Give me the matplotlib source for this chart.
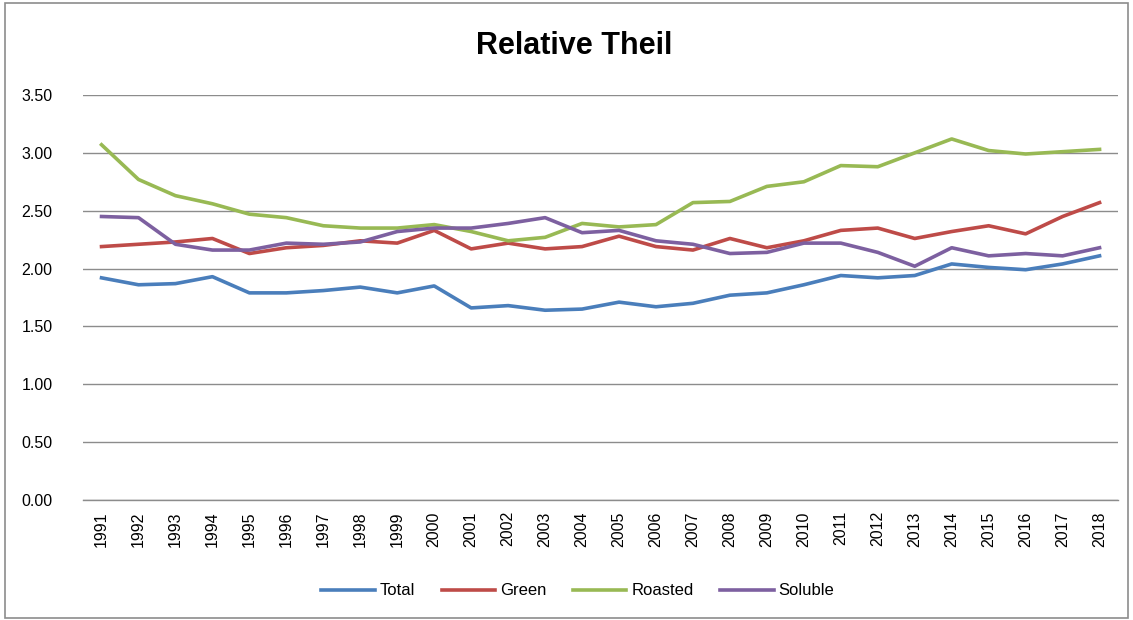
import matplotlib
matplotlib.use('Agg')
import matplotlib.pyplot as plt
from matplotlib.patches import Rectangle

years = [str(y) for y in range(1991, 2019)]

total = [1.92, 1.86, 1.87, 1.93, 1.79, 1.79, 1.81, 1.84, 1.79, 1.85,
         1.66, 1.68, 1.64, 1.65, 1.71, 1.67, 1.70, 1.77, 1.79, 1.86,
         1.94, 1.92, 1.94, 2.04, 2.01, 1.99, 2.04, 2.11]
green = [2.19, 2.21, 2.23, 2.26, 2.13, 2.18, 2.20, 2.24, 2.22, 2.33,
         2.17, 2.22, 2.17, 2.19, 2.28, 2.19, 2.16, 2.26, 2.18, 2.24,
         2.33, 2.35, 2.26, 2.32, 2.37, 2.30, 2.45, 2.57]
roasted = [3.07, 2.77, 2.63, 2.56, 2.47, 2.44, 2.37, 2.35, 2.35, 2.38,
           2.32, 2.24, 2.27, 2.39, 2.36, 2.38, 2.57, 2.58, 2.71, 2.75,
           2.89, 2.88, 3.00, 3.12, 3.02, 2.99, 3.01, 3.03]
soluble = [2.45, 2.44, 2.21, 2.16, 2.16, 2.22, 2.21, 2.23, 2.32, 2.35,
           2.35, 2.39, 2.44, 2.31, 2.33, 2.24, 2.21, 2.13, 2.14, 2.22,
           2.22, 2.14, 2.02, 2.18, 2.11, 2.13, 2.11, 2.18]

series = [('Total', total, '#4a7ebb'),
          ('Green', green, '#be4b48'),
          ('Roasted', roasted, '#98b954'),
          ('Soluble', soluble, '#7d60a0')]

plt.rcParams['font.family'] = ['Liberation Sans', 'DejaVu Sans']

fig = plt.figure(figsize=(11.33, 6.2), dpi=100)
ax = fig.add_axes([0.0733, 0.1935, 0.9135, 0.6533])

x = list(range(len(years)))
for name, vals, col in series:
    ax.plot(x, vals, color=col, linewidth=2.6, label=name)

ax.set_ylim(0, 3.5)
ax.set_xlim(-0.5, len(years) - 0.5)
ax.set_yticks([0, 0.5, 1.0, 1.5, 2.0, 2.5, 3.0, 3.5])
ax.set_yticklabels(['%.2f' % v for v in ax.get_yticks()], fontsize=11.5)
ax.set_xticks(x)
ax.set_xticklabels(years, rotation=90, fontsize=11.5)
ax.tick_params(length=0, pad=8)
ax.tick_params(axis='y', pad=22)
ax.grid(axis='y', color='#8c8c8c', linewidth=1)
ax.axhline(0, color='#8c8c8c', linewidth=1, clip_on=False, zorder=0.5)
ax.set_axisbelow(True)
for s in ax.spines.values():
    s.set_visible(False)

fig.text(0.507, 0.925, 'Relative Theil', ha='center', va='center',
         fontsize=22, fontweight='bold')

fig.legend(loc='center', bbox_to_anchor=(0.51, 0.047), ncol=4, frameon=False,
           fontsize=12, handlelength=3.2, handletextpad=0.3, columnspacing=1.6)

fig.patches.append(Rectangle((0.004, 0.003), 0.992, 0.992, transform=fig.transFigure,
                             fill=False, edgecolor='#8c8c8c', linewidth=1.2))

plt.savefig('out.png', dpi=100)
plt.close(fig)
